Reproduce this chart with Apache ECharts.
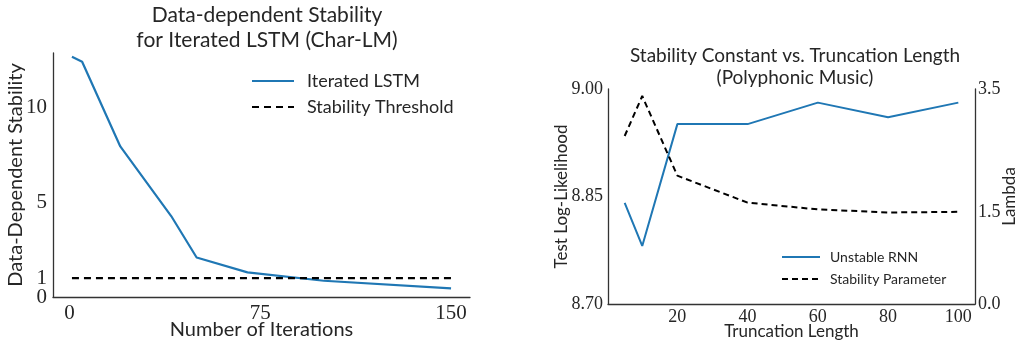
<!DOCTYPE html>
<html>
<head>
<meta charset="utf-8">
<script src="https://cdn.jsdelivr.net/npm/echarts@6/dist/echarts.min.js"></script>
<style>
  html, body { margin: 0; padding: 0; background: #fff; }
  #chart { width: 1017px; height: 341px; }
</style>
</head>
<body>
<div id="chart"></div>
<script>
// left panel: stability vs iterations
const iterations = [1, 5, 20, 40, 50, 70, 100, 150];
const iteratedLstm = [12.7, 12.44, 7.96, 4.28, 2.09, 1.30, 0.86, 0.46];
const thresholdX = [1, 150];
const thresholdY = [1, 1];
const leftXTicks = [0, 75, 150];
const leftYTicks = [0, 1, 5, 10];

// right panel: truncation length
const truncation = [5, 10, 20, 40, 60, 80, 100];
const unstableRnn = [8.841, 8.781, 8.951, 8.951, 8.981, 8.9605, 8.981];
const stabilityParam = [2.735, 3.386, 2.089, 1.65, 1.54, 1.49, 1.50];
const rightXTicks = [20, 40, 60, 80, 100];
const llTicks = [8.70, 8.85, 9.00];
const lambdaTicks = [0.0, 1.5, 3.5];

const serif = '"Liberation Serif", "DejaVu Serif", serif';
const sans = 'Lato, "Open Sans", sans-serif';
const axisCol = '#333';
const textCol = '#262626';

const chart = echarts.init(document.getElementById('chart'));

const pairs = (xs, ys) => xs.map((x, i) => [x, ys[i]]);

const baseAxis = {
  axisLine: { show: true, onZero: false, lineStyle: { color: axisCol, width: 1.3 } },
  axisTick: { show: false },
  splitLine: { show: false },
  nameMoveOverlap: false,
  nameTextStyle: { fontFamily: sans, fontSize: 20, color: textCol }
};

const label = (ticks, size, margin, extra) => Object.assign({
  customValues: ticks, hideOverlap: false,
  fontFamily: serif, fontSize: size, color: textCol, margin: margin
}, extra || {});

chart.setOption({
  animation: false,
  title: [
    {
      text: 'Data-dependent Stability\nfor Iterated LSTM (Char-LM)',
      left: 262, top: -2, textAlign: 'center',
      textStyle: { fontFamily: sans, fontSize: 21, fontWeight: 'normal', color: textCol, lineHeight: 25 }
    },
    {
      text: 'Stability Constant vs. Truncation Length\n(Polyphonic Music)',
      left: 790, top: 40, textAlign: 'center',
      textStyle: { fontFamily: sans, fontSize: 19, fontWeight: 'normal', color: textCol, lineHeight: 22 }
    }
  ],
  legend: [
    {
      data: ['Iterated LSTM', 'Stability Threshold'],
      orient: 'vertical', left: 246, top: 67, itemGap: 8,
      itemWidth: 42, itemHeight: 18,
      itemStyle: { opacity: 0 },
      textStyle: { fontFamily: sans, fontSize: 18, color: textCol, padding: [0, 0, 0, 8] }
    },
    {
      data: ['Unstable RNN', 'Stability Parameter'],
      orient: 'vertical', left: 776, top: 245, itemGap: 8,
      itemWidth: 38, itemHeight: 16,
      itemStyle: { opacity: 0 },
      textStyle: { fontFamily: sans, fontSize: 14, color: textCol, padding: [0, 0, 0, 5] }
    }
  ],
  grid: [
    { left: 53, right: 547, top: 53, bottom: 44, outerBoundsMode: 'none' },
    { left: 608, right: 42, top: 89, bottom: 37, outerBoundsMode: 'none' }
  ],
  xAxis: [
    Object.assign({}, baseAxis, {
      gridIndex: 0, type: 'value', min: -6.45, max: 157.45,
      name: 'Number of Iterations', nameLocation: 'middle', nameGap: 23,
      axisLabel: label(leftXTicks, 21, 6)
    }),
    Object.assign({}, baseAxis, {
      gridIndex: 1, type: 'value', min: 0.25, max: 104.75,
      name: 'Truncation Length', nameLocation: 'middle', nameGap: 19,
      nameTextStyle: { fontFamily: sans, fontSize: 17, color: textCol },
      axisLabel: label(rightXTicks, 18, 4)
    })
  ],
  yAxis: [
    Object.assign({}, baseAxis, {
      gridIndex: 0, type: 'value', min: 0, max: 12.9,
      name: 'Data-Dependent Stability', nameLocation: 'middle', nameGap: 27,
      axisLabel: label(leftYTicks.slice(1), 21, 6)
    }),
    Object.assign({}, baseAxis, {
      gridIndex: 1, type: 'value', min: 8.70, max: 9.00,
      name: 'Test Log-Likelihood', nameLocation: 'middle', nameGap: 38,
      nameTextStyle: { fontFamily: sans, fontSize: 17, color: textCol },
      axisLabel: label(llTicks, 18, 5, { formatter: v => v.toFixed(2) })
    }),
    Object.assign({}, baseAxis, {
      gridIndex: 1, type: 'value', position: 'right', min: 0, max: 3.5,
      name: 'Lambda', nameLocation: 'middle', nameGap: 26,
      nameTextStyle: { fontFamily: sans, fontSize: 17, color: textCol },
      axisLabel: label(lambdaTicks, 18, 3, { formatter: v => v.toFixed(1) })
    }),
    // overlay axis carrying the "0" label, which sits too close to "1" for one axis
    Object.assign({}, baseAxis, {
      gridIndex: 0, type: 'value', position: 'left', min: 0, max: 12.9,
      axisLine: { show: false },
      axisLabel: label(leftYTicks.slice(0, 1), 21, 6, { showMinLabel: true })
    })
  ],
  series: [
    {
      name: 'Iterated LSTM', type: 'line', xAxisIndex: 0, yAxisIndex: 0,
      data: pairs(iterations, iteratedLstm), showSymbol: false, symbol: 'none',
      lineStyle: { color: '#1f77b4', width: 2.2 }, itemStyle: { color: '#1f77b4' }
    },
    {
      name: 'Stability Threshold', type: 'line', xAxisIndex: 0, yAxisIndex: 0,
      data: pairs(thresholdX, thresholdY), showSymbol: false, symbol: 'none',
      lineStyle: { color: '#000', width: 2.2, type: [7, 5] }, itemStyle: { color: '#000' }
    },
    {
      name: 'Unstable RNN', type: 'line', xAxisIndex: 1, yAxisIndex: 1,
      data: pairs(truncation, unstableRnn), showSymbol: false, symbol: 'none',
      lineStyle: { color: '#1f77b4', width: 2 }, itemStyle: { color: '#1f77b4' }
    },
    {
      name: 'Stability Parameter', type: 'line', xAxisIndex: 1, yAxisIndex: 2,
      data: pairs(truncation, stabilityParam), showSymbol: false, symbol: 'none',
      lineStyle: { color: '#000', width: 2, type: [6, 4] }, itemStyle: { color: '#000' }
    }
  ]
});
</script>
</body>
</html>
